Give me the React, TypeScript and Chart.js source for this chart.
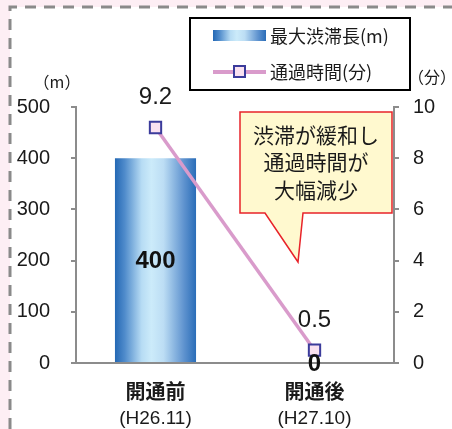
import { useEffect, useRef } from 'react';
import { Chart, registerables } from 'chart.js';

Chart.register(...registerables);

// ---- data ----
const categories = ['開通前', '開通後'];
const periods = ['(H26.11)', '(H27.10)'];
const queueLength = [400, 0]; // 最大渋滞長 (m)
const travelTime = [9.2, 0.5]; // 通過時間 (分)
const seriesNames = ['最大渋滞長(m)', '通過時間(分)'];
const leftAxis = { min: 0, max: 500, step: 100 };
const rightAxis = { min: 0, max: 10, step: 2 };
const leftUnit = '（m）';
const rightUnit = '（分）';
const calloutLines = ['渋滞が緩和し', '通過時間が', '大幅減少'];

const NUM = '"Liberation Sans", Arial, sans-serif';
const JP = '"Noto Sans CJK JP", "Noto Sans CJK SC", sans-serif';
const TEXT = '#1a1a1a';
const AXIS = '#8c8c8c';
const LINE = '#D99BCB';
const MARK_FILL = '#F9E1F0';
const MARK_EDGE = '#3B3B9B';

function barGradient(ctx: CanvasRenderingContext2D, x0: number, x1: number) {
  const g = ctx.createLinearGradient(x0, 0, x1, 0);
  g.addColorStop(0, '#2468B4');
  g.addColorStop(0.12, '#4F8BCB');
  g.addColorStop(0.33, '#B7DCF4');
  g.addColorStop(0.45, '#CCEBFA');
  g.addColorStop(0.6, '#BCDDF4');
  g.addColorStop(0.85, '#5F93CF');
  g.addColorStop(1, '#2A6DB8');
  return g;
}

const decorPlugin = {
  id: 'decor',
  beforeDraw(chart: any) {
    const { ctx, width, height } = chart;
    ctx.save();
    ctx.fillStyle = '#FDEEF4';
    ctx.fillRect(0, 0, width, height);
    ctx.fillStyle = '#ffffff';
    ctx.fillRect(10, 7, width - 10, height - 7);
    ctx.strokeStyle = '#8a8a8a';
    ctx.lineWidth = 3;
    ctx.setLineDash([11, 8]);
    ctx.beginPath();
    ctx.moveTo(10, height);
    ctx.lineTo(10, 7);
    ctx.lineTo(width, 7);
    ctx.stroke();
    ctx.restore();
  },
  afterDatasetsDraw(chart: any) {
    const { ctx } = chart;
    ctx.save();
    // bar value labels
    const barMeta = chart.getDatasetMeta(0);
    ctx.font = `bold 24px ${NUM}`;
    ctx.fillStyle = '#111';
    ctx.textAlign = 'center';
    ctx.textBaseline = 'middle';
    barMeta.data.forEach((el: any, i: number) => {
      const { x, y, base } = el.getProps(['x', 'y', 'base'], true);
      ctx.fillText(String(queueLength[i]), x, (y + base) / 2 + 1);
    });
    // line value labels
    const lineMeta = chart.getDatasetMeta(1);
    ctx.font = `24px ${NUM}`;
    ctx.fillStyle = TEXT;
    ctx.textBaseline = 'alphabetic';
    lineMeta.data.forEach((el: any, i: number) => {
      const { x, y } = el.getProps(['x', 'y'], true);
      ctx.fillText(String(travelTime[i]), x, y - 23);
    });
    ctx.restore();
  },
  afterDraw(chart: any) {
    const { ctx } = chart;
    ctx.save();
    // unit titles
    ctx.fillStyle = TEXT;
    ctx.font = `16px ${JP}`;
    ctx.textAlign = 'center';
    ctx.textBaseline = 'middle';
    ctx.fillText(leftUnit, 57, 82);
    ctx.fillText(rightUnit, 432, 77);

    // legend box
    ctx.lineWidth = 2;
    ctx.strokeStyle = '#000';
    ctx.fillStyle = '#fff';
    ctx.fillRect(190, 18, 220, 72);
    ctx.strokeRect(190, 18, 220, 72);
    ctx.fillStyle = barGradient(ctx, 213, 266);
    ctx.fillRect(213, 30, 53, 11);
    ctx.strokeStyle = LINE;
    ctx.lineWidth = 4;
    ctx.beginPath();
    ctx.moveTo(213, 72);
    ctx.lineTo(266, 72);
    ctx.stroke();
    ctx.fillStyle = MARK_FILL;
    ctx.strokeStyle = MARK_EDGE;
    ctx.lineWidth = 2;
    ctx.fillRect(234, 66, 11, 11);
    ctx.strokeRect(234, 66, 11, 11);
    ctx.fillStyle = TEXT;
    ctx.font = `18px ${JP}`;
    ctx.textAlign = 'left';
    ctx.textBaseline = 'middle';
    ctx.fillText(seriesNames[0], 270, 36);
    ctx.fillText(seriesNames[1], 270, 72);

    // callout
    ctx.beginPath();
    ctx.moveTo(240, 112);
    ctx.lineTo(392, 112);
    ctx.lineTo(392, 213);
    ctx.lineTo(303, 213);
    ctx.lineTo(298, 262);
    ctx.lineTo(265, 213);
    ctx.lineTo(240, 213);
    ctx.closePath();
    ctx.fillStyle = '#FFF9CF';
    ctx.fill();
    ctx.strokeStyle = '#E8232A';
    ctx.lineWidth = 1.5;
    ctx.stroke();
    ctx.fillStyle = TEXT;
    ctx.font = `21px ${JP}`;
    ctx.textAlign = 'center';
    ctx.textBaseline = 'middle';
    calloutLines.forEach((t, i) => ctx.fillText(t, 316, 135 + i * 27.5));
    ctx.restore();
  },
};

export default function App() {
  const ref = useRef<HTMLCanvasElement>(null);
  useEffect(() => {
    if (!ref.current) return;
    const chart = new Chart(ref.current, {
      type: 'bar',
      data: {
        labels: categories,
        datasets: [
          {
            type: 'bar',
            label: seriesNames[0],
            data: queueLength,
            yAxisID: 'y',
            xAxisID: 'x',
            order: 2,
            barPercentage: 0.51,
            categoryPercentage: 1,
            borderWidth: 0,
            backgroundColor: (c: any) => {
              const chart = c.chart;
              const xs = chart.scales?.x;
              if (!chart.chartArea || !xs) return '#2A6DB8';
              const cx = xs.getPixelForValue(c.dataIndex);
              const half = ((xs.width / categories.length) * 0.51) / 2;
              return barGradient(chart.ctx, cx - half, cx + half);
            },
          } as any,
          {
            type: 'line',
            label: seriesNames[1],
            data: travelTime,
            yAxisID: 'y1',
            xAxisID: 'x',
            order: 1,
            borderColor: LINE,
            borderWidth: 3.5,
            pointStyle: 'rect',
            pointRadius: 8,
            pointBorderWidth: 2,
            pointBackgroundColor: MARK_FILL,
            pointBorderColor: MARK_EDGE,
            tension: 0,
            clip: false,
          } as any,
        ],
      },
      options: {
        responsive: false,
        animation: false,
        events: [],
        layout: { padding: { top: 107, left: 0, right: 0, bottom: 0 } },
        plugins: { legend: { display: false }, tooltip: { enabled: false } },
        scales: {
          x: {
            type: 'category',
            position: 'bottom',
            labels: categories,
            offset: true,
            weight: 0,
            grid: { display: false, drawTicks: false },
            border: { display: true, color: AXIS, width: 2 },
            ticks: { font: { family: JP, size: 20, weight: 'bold' }, color: TEXT, padding: 16, maxRotation: 0 },
            afterFit: (s: any) => { s.height = 42; },
          },
          x2: {
            type: 'category',
            position: 'bottom',
            labels: periods,
            offset: true,
            weight: 1,
            grid: { display: false, drawTicks: false },
            border: { display: false },
            ticks: { font: { family: NUM, size: 19 }, color: TEXT, padding: 2, maxRotation: 0 },
            afterFit: (s: any) => { s.height = 24; },
          },
          y: {
            position: 'left',
            min: leftAxis.min,
            max: leftAxis.max,
            ticks: { stepSize: leftAxis.step, font: { family: NUM, size: 20 }, color: TEXT, padding: 21 },
            grid: { drawOnChartArea: false, drawTicks: true, tickLength: 5, color: AXIS, lineWidth: 2 },
            border: { display: true, color: AXIS, width: 2 },
            afterFit: (s: any) => { s.width = 76; },
          },
          y1: {
            position: 'right',
            min: rightAxis.min,
            max: rightAxis.max,
            ticks: { stepSize: rightAxis.step, font: { family: NUM, size: 20 }, color: TEXT, padding: 14 },
            grid: { drawOnChartArea: false, drawTicks: true, tickLength: 5, color: AXIS, lineWidth: 2 },
            border: { display: true, color: AXIS, width: 2 },
            afterFit: (s: any) => { s.width = 58; },
          },
        },
      } as any,
      plugins: [decorPlugin],
    });
    return () => chart.destroy();
  }, []);
  return (
    <div style={{ position: 'fixed', left: 0, top: 0, width: 452, height: 429 }}>
      <canvas ref={ref} width={452} height={429} style={{ display: 'block', width: 452, height: 429 }} />
    </div>
  );
}
